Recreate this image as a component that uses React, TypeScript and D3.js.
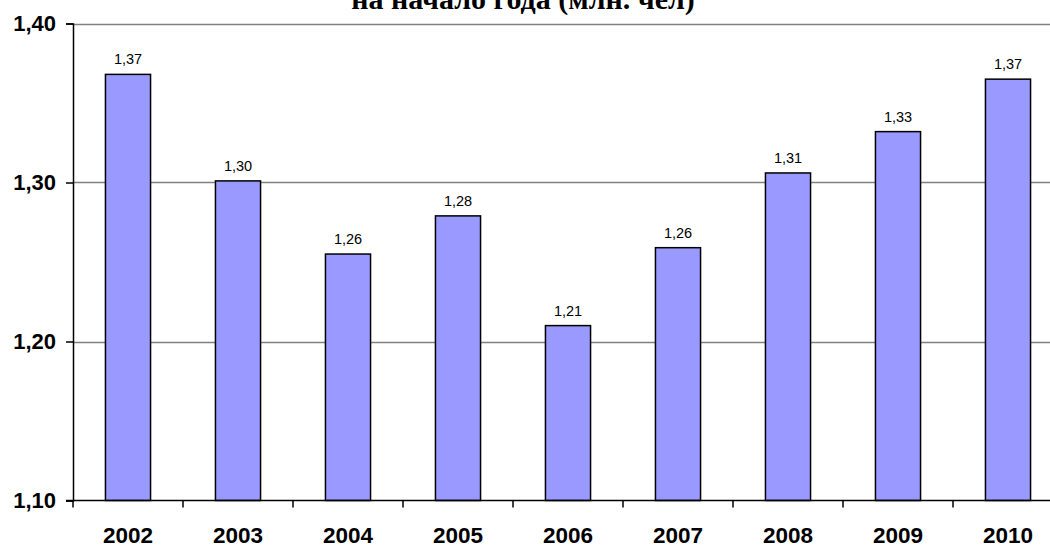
import { useEffect, useRef } from "react";
import * as d3 from "d3";

const years = ["2002", "2003", "2004", "2005", "2006", "2007", "2008", "2009", "2010"];
const values = [1.368, 1.301, 1.255, 1.279, 1.21, 1.259, 1.306, 1.332, 1.365];
const labels = ["1,37", "1,30", "1,26", "1,28", "1,21", "1,26", "1,31", "1,33", "1,37"];
const yTicks = [1.1, 1.2, 1.3, 1.4];
const title = "на начало года (млн. чел)";

export default function App() {
  const ref = useRef<SVGSVGElement>(null);
  useEffect(() => {
    if (!ref.current) return;
    const svg = d3.select(ref.current);
    svg.selectAll("*").remove();
    const w = 1050;
    const left = 73;
    const right = 1063;
    const top = 23.5;
    const bottom = 500.5;

    const x = d3.scaleBand<string>().domain(years).range([left, right]).paddingInner(0.59).paddingOuter(0.295);
    const xb = d3.scaleBand<string>().domain(years).range([left, right]);
    const y = d3.scaleLinear().domain([1.1, 1.4]).range([bottom, top]);

    svg.append("text")
      .attr("x", 523)
      .attr("y", 9)
      .attr("text-anchor", "middle")
      .attr("font-family", "Liberation Serif, Times New Roman, serif")
      .attr("font-weight", "bold")
      .attr("font-size", 30)
      .text(title);

    // grid
    svg.append("g")
      .selectAll("line")
      .data(yTicks.slice(1))
      .join("line")
      .attr("x1", left)
      .attr("x2", w)
      .attr("y1", (d) => Math.round(y(d)) + 0.5)
      .attr("y2", (d) => Math.round(y(d)) + 0.5)
      .attr("stroke", "#808080")
      .attr("stroke-width", 1.5);

    svg.append("g")
      .selectAll("rect")
      .data(values)
      .join("rect")
      .attr("x", (_, i) => x(years[i])!)
      .attr("width", x.bandwidth())
      .attr("y", (d) => y(d))
      .attr("height", (d) => bottom - y(d))
      .attr("fill", "#9999FF")
      .attr("stroke", "#000")
      .attr("stroke-width", 1.5);

    svg.append("g")
      .selectAll("text")
      .data(values)
      .join("text")
      .attr("x", (_, i) => x(years[i])! + x.bandwidth() / 2)
      .attr("y", (d) => y(d) - 10)
      .attr("text-anchor", "middle")
      .attr("font-family", "Liberation Sans, Arial, sans-serif")
      .attr("font-size", 14.5)
      .text((_, i) => labels[i]);

    // y axis
    svg.append("g")
      .attr("transform", `translate(${left},0)`)
      .call(d3.axisLeft(y).tickValues(yTicks).tickSize(7).tickPadding(10).tickFormat((d) => d3.format(".2f")(+d).replace(".", ",")))
      .call((g) => g.select(".domain").attr("stroke", "#000").attr("stroke-width", 1.5))
      .call((g) => g.selectAll(".tick line").attr("stroke", "#000").attr("stroke-width", 1.5))
      .call((g) => g.selectAll("text").attr("font-family", "Liberation Sans, Arial, sans-serif").attr("font-weight", "bold").attr("font-size", 22).attr("fill", "#000"));

    // x axis
    const xg = svg.append("g").attr("transform", `translate(0,${bottom})`);
    xg.append("line").attr("x1", left - 7).attr("x2", w).attr("stroke", "#000").attr("stroke-width", 1.5);
    xg.selectAll("line.tk")
      .data(years)
      .join("line")
      .attr("class", "tk")
      .attr("x1", (d) => xb(d)!)
      .attr("x2", (d) => xb(d)!)
      .attr("y2", 7)
      .attr("stroke", "#000")
      .attr("stroke-width", 1.5);
    xg.selectAll("text.lbl")
      .data(years)
      .join("text")
      .attr("class", "lbl")
      .attr("x", (d) => xb(d)! + xb.bandwidth() / 2)
      .attr("y", 42)
      .attr("text-anchor", "middle")
      .attr("font-family", "Liberation Sans, Arial, sans-serif")
      .attr("font-weight", "bold")
      .attr("font-size", 22.5)
      .text((d) => d);
  }, []);
  return (
    <svg
      ref={ref}
      width={1050}
      height={546}
      style={{ position: "absolute", left: 0, top: 0, background: "#fff" }}
    />
  );
}
